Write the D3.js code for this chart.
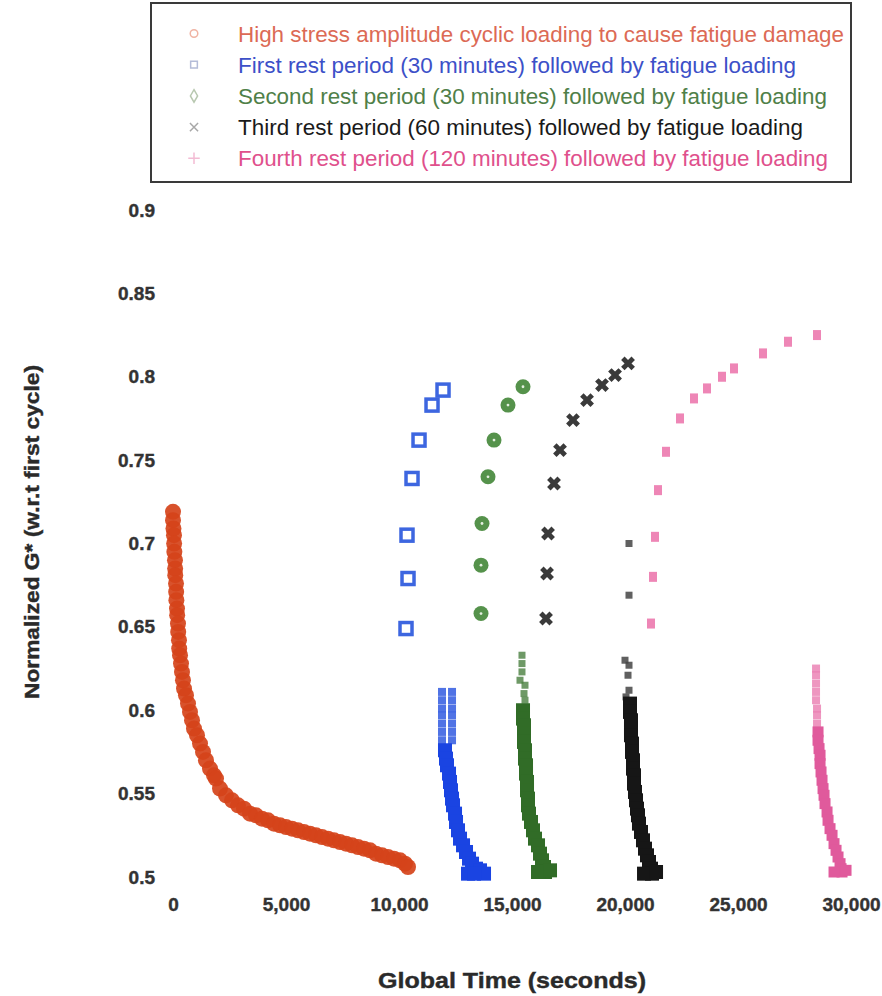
<!DOCTYPE html>
<html>
<head>
<meta charset="utf-8">
<script src="https://cdn.jsdelivr.net/npm/d3@7"></script>
<style>
  body { margin: 0; background: #fff; }
  svg { display: block; }
  text { font-family: "Liberation Sans", Arial, Helvetica, sans-serif; }
</style>
</head>
<body>
<svg id="chart" width="882" height="996"></svg>
<script>
// ---- axis ticks ----
const xTicks = [0, 5000, 10000, 15000, 20000, 25000, 30000];
const yTicks = [0.5, 0.55, 0.6, 0.65, 0.7, 0.75, 0.8, 0.85, 0.9];

// ---- legend ----
const legendLabels = [
  "High stress amplitude cyclic loading to cause fatigue damage",
  "First rest period (30 minutes) followed by fatigue loading",
  "Second rest period (30 minutes) followed by fatigue loading",
  "Third rest period (60 minutes) followed by fatigue loading",
  "Fourth rest period (120 minutes) followed by fatigue loading"
];

// ---- fatigue loading (global time in s, normalized G*) ----
const fatigueTime = [0, 0, 20, 44, 50, 60, 88, 95, 100, 133, 140, 150, 177, 185, 221, 230, 265, 275, 310, 354,
  398, 442, 487, 575, 664, 752, 841, 929, 1062, 1195, 1328, 1460, 1637, 1814, 1903, 2080, 2345, 2611, 2876, 3142,
  3407, 3673, 3938, 4204, 4469, 4735, 5000, 5266, 5531, 5797, 6062, 6328, 6593, 6859, 7124, 7390, 7655, 7921, 8186, 8452,
  8717, 8983, 9248, 9514, 9779, 10045, 10266, 10399];
const fatigueG = [0.719, 0.714, 0.709, 0.705, 0.700, 0.695, 0.690, 0.685, 0.681, 0.676, 0.671, 0.666, 0.661, 0.657, 0.652, 0.647, 0.642, 0.637, 0.633, 0.628,
  0.623, 0.618, 0.613, 0.609, 0.604, 0.599, 0.594, 0.589, 0.585, 0.580, 0.575, 0.570, 0.565, 0.561, 0.559, 0.553, 0.549, 0.546, 0.543, 0.541,
  0.538, 0.537, 0.535, 0.534, 0.532, 0.531, 0.530, 0.529, 0.528, 0.527, 0.526, 0.525, 0.524, 0.523, 0.522, 0.521, 0.520, 0.519, 0.518, 0.517,
  0.516, 0.514, 0.513, 0.512, 0.511, 0.510, 0.508, 0.506];

// ---- first rest period: recovery points, then reloading ----
const rest1RecoveryTime = [10310, 10399, 10354, 10576, 10886, 11461, 11948];
const rest1RecoveryG = [0.649, 0.679, 0.705, 0.739, 0.762, 0.783, 0.792];
const rest1EarlyTime = [11903, 11903, 11903, 11903, 11903, 11903, 11903, 12346, 12346, 12346, 12346, 12346, 12346, 12346];
const rest1EarlyG = [0.611, 0.606, 0.601, 0.597, 0.592, 0.587, 0.582, 0.611, 0.606, 0.601, 0.597, 0.592, 0.587, 0.582];
const rest1LoadTime = [12035, 12080, 12124, 12213, 12257, 12301, 12346, 12390, 12479, 12523, 12611, 12700, 12833,
  12965, 13098, 13231, 13408, 13585, 13762, 13054, 13319];
const rest1LoadG = [0.576, 0.571, 0.567, 0.562, 0.557, 0.552, 0.547, 0.543, 0.538, 0.533, 0.528, 0.523, 0.519,
  0.515, 0.511, 0.508, 0.505, 0.504, 0.502, 0.502, 0.502];

// ---- second rest period ----
const rest2RecoveryTime = [15487, 14823, 14204, 13938, 13673, 13629, 13629];
const rest2RecoveryG = [0.794, 0.783, 0.762, 0.740, 0.712, 0.687, 0.658];
const rest2EarlyTime = [15442, 15442, 15442, 15354, 15575, 15531, 15575];
const rest2EarlyG = [0.633, 0.628, 0.623, 0.618, 0.615, 0.610, 0.606];
const rest2LoadTime = [15487, 15487, 15531, 15531, 15531, 15575, 15575, 15620, 15620, 15664, 15664, 15708, 15708,
  15752, 15841, 15929, 16018, 16151, 16239, 16328, 16416, 16461, 16151, 16682];
const rest2LoadG = [0.600, 0.595, 0.591, 0.586, 0.581, 0.576, 0.571, 0.567, 0.562, 0.557, 0.552, 0.547, 0.543,
  0.538, 0.533, 0.528, 0.523, 0.519, 0.514, 0.510, 0.506, 0.503, 0.503, 0.504];

// ---- third rest period ----
const rest3RecoveryTime = [20134, 19559, 18983, 18320, 17700, 17125, 16859, 16594, 16550, 16505];
const rest3RecoveryG = [0.808, 0.801, 0.795, 0.786, 0.774, 0.756, 0.736, 0.706, 0.682, 0.655];
const rest3EarlyTime = [20177, 20177, 20000, 20177, 20133, 20177, 20044];
const rest3EarlyG = [0.700, 0.669, 0.630, 0.627, 0.621, 0.612, 0.608];
const rest3LoadTime = [20221, 20221, 20265, 20265, 20265, 20310, 20310, 20354, 20354, 20398, 20398, 20442, 20487,
  20531, 20575, 20619, 20708, 20796, 20885, 20973, 21062, 21150, 21195, 20842, 21373];
const rest3LoadG = [0.604, 0.599, 0.594, 0.589, 0.585, 0.580, 0.575, 0.570, 0.565, 0.561, 0.556, 0.551, 0.546,
  0.541, 0.537, 0.532, 0.527, 0.522, 0.517, 0.513, 0.509, 0.505, 0.502, 0.502, 0.503];

// ---- fourth rest period ----
const rest4RecoveryTime = [28496, 27212, 26106, 24823, 24292, 23628, 23053, 22434, 21814, 21460, 21327, 21239, 21150];
const rest4RecoveryG = [0.825, 0.821, 0.814, 0.805, 0.800, 0.793, 0.787, 0.775, 0.755, 0.732, 0.704, 0.680, 0.652];
const rest4EarlyTime = [28453, 28453, 28453, 28453, 28453, 28497, 28497, 28497];
const rest4EarlyG = [0.625, 0.621, 0.616, 0.611, 0.606, 0.601, 0.597, 0.592];
const rest4LoadTime = [28541, 28541, 28586, 28630, 28630, 28674, 28718, 28763, 28807, 28851, 28940, 28984, 29072,
  29161, 29249, 29338, 29426, 29515, 29559, 29603, 29249, 29780];
const rest4LoadG = [0.587, 0.582, 0.577, 0.573, 0.568, 0.563, 0.558, 0.553, 0.549, 0.544, 0.539, 0.534, 0.529,
  0.525, 0.520, 0.516, 0.512, 0.508, 0.505, 0.503, 0.503, 0.504];

const zip = (ts, gs) => ts.map((t, i) => ({ t, g: gs[i] }));

const svg = d3.select("#chart");
const x = d3.scaleLinear().domain([0, 30000]).range([173, 851]);
const y = d3.scaleLinear().domain([0.5, 0.9]).range([877, 210]);

// ---- axes (labels only, no lines) ----
const xAxis = svg.append("g")
  .attr("transform", "translate(0,877)")
  .call(d3.axisBottom(x).tickValues(xTicks).tickFormat(d3.format(",")).tickSize(0).tickPadding(21));
const yAxis = svg.append("g")
  .attr("transform", "translate(173,0)")
  .call(d3.axisLeft(y).tickValues(yTicks).tickFormat(d3.format("~g")).tickSize(0).tickPadding(18));
[xAxis, yAxis].forEach(g => {
  g.select(".domain").remove();
  g.selectAll("text")
    .attr("fill", "#333")
    .attr("stroke", "#333").attr("stroke-width", 0.4)
    .style("font-size", "19px")
    .style("font-weight", "bold")
    .style("font-family", "\"Liberation Sans\", Arial, sans-serif");
});

svg.append("text")
  .attr("x", 512).attr("y", 988)
  .attr("text-anchor", "middle")
  .attr("fill", "#2a2a2a").attr("stroke", "#2a2a2a").attr("stroke-width", 0.4)
  .attr("textLength", 268).attr("lengthAdjust", "spacingAndGlyphs")
  .style("font-size", "22px").style("font-weight", "bold")
  .text("Global Time (seconds)");

svg.append("text")
  .attr("transform", "translate(39,532) rotate(-90)")
  .attr("text-anchor", "middle")
  .attr("fill", "#2a2a2a").attr("stroke", "#2a2a2a").attr("stroke-width", 0.4)
  .attr("textLength", 334).attr("lengthAdjust", "spacingAndGlyphs")
  .style("font-size", "20px").style("font-weight", "bold")
  .text("Normalized G* (w.r.t first cycle)");

// ---- marks ----
const plot = svg.append("g");

// loading cycles drawn as overlapping squares
function squares(data, size, color, opacity) {
  plot.append("g").selectAll("rect").data(data).join("rect")
    .attr("x", d => x(d.t) - size / 2)
    .attr("y", d => y(d.g) - size / 2)
    .attr("width", size).attr("height", size)
    .attr("fill", color).attr("fill-opacity", opacity);
}

// fatigue loading: circles packed into a solid band
plot.append("g").selectAll("circle").data(zip(fatigueTime, fatigueG)).join("circle")
  .attr("cx", d => x(d.t)).attr("cy", d => y(d.g)).attr("r", 8)
  .attr("fill", "#d5431a").attr("fill-opacity", 0.92);

squares(zip(rest1EarlyTime, rest1EarlyG), 8, "#3d64e2", 0.9);
squares(zip(rest1LoadTime, rest1LoadG), 14, "#1a44e2", 1);
squares(zip(rest2EarlyTime, rest2EarlyG), 7, "#4a8040", 0.8);
squares(zip(rest2LoadTime, rest2LoadG), 14, "#316c27", 1);
squares(zip(rest3EarlyTime, rest3EarlyG), 7, "#444444", 0.85);
squares(zip(rest3LoadTime, rest3LoadG), 14, "#161616", 1);
squares(zip(rest4EarlyTime, rest4EarlyG), 8, "#ea7cb0", 0.8);
squares(zip(rest4LoadTime, rest4LoadG), 11, "#e05a9c", 1);

// recovery points after each rest
plot.append("g").selectAll("rect").data(zip(rest1RecoveryTime, rest1RecoveryG)).join("rect")
  .attr("x", d => x(d.t) - 6).attr("y", d => y(d.g) - 6)
  .attr("width", 12).attr("height", 12)
  .attr("fill", "none").attr("stroke", "#3d66e0").attr("stroke-width", 3.5);

const g2 = plot.append("g").selectAll("g").data(zip(rest2RecoveryTime, rest2RecoveryG)).join("g")
  .attr("transform", d => `translate(${x(d.t)},${y(d.g)})`);
g2.append("circle").attr("r", 7.5).attr("fill", "#55924b");
g2.append("circle").attr("r", 1.4).attr("fill", "#e4efe0");

plot.append("g").selectAll("path").data(zip(rest3RecoveryTime, rest3RecoveryG)).join("path")
  .attr("transform", d => `translate(${x(d.t)},${y(d.g)}) rotate(45)`)
  .attr("d", d3.symbol(d3.symbolCross, 120)())
  .attr("fill", "#3a3a3a");

plot.append("g").selectAll("rect").data(zip(rest4RecoveryTime, rest4RecoveryG)).join("rect")
  .attr("x", d => x(d.t) - 4).attr("y", d => y(d.g) - 5)
  .attr("width", 8).attr("height", 10)
  .attr("fill", "#ee86b6");

// ---- legend ----
const legend = svg.append("g");
legend.append("rect")
  .attr("x", 151).attr("y", 3).attr("width", 700).attr("height", 179)
  .attr("fill", "#fff").attr("stroke", "#3a3a3a").attr("stroke-width", 2);

const legendText = ["#dc6a55", "#3c50c8", "#4f8048", "#1a1a1a", "#e0508c"];
const legendMark = ["#f0b4a4", "#b4bcd8", "#b8c8b0", "#a8a8a8", "#f3bcd4"];
const legendWidth = [606, 558, 589, 565, 590];
const legendSymbols = [d3.symbolCircle, d3.symbolSquare, d3.symbolDiamond, d3.symbolX, d3.symbolPlus];

const rows = legend.selectAll("g.row").data(legendLabels).join("g")
  .attr("class", "row")
  .attr("transform", (d, i) => `translate(0,${33.5 + i * 31.2})`);
rows.append("path")
  .attr("transform", "translate(194,0)")
  .attr("d", (d, i) => d3.symbol(legendSymbols[i], 45)())
  .attr("fill", "none")
  .attr("stroke", (d, i) => legendMark[i]).attr("stroke-width", 1.5);
rows.append("text")
  .attr("x", 238).attr("y", 8)
  .attr("fill", (d, i) => legendText[i])
  .attr("textLength", (d, i) => legendWidth[i]).attr("lengthAdjust", "spacingAndGlyphs")
  .style("font-size", "22.5px")
  .text(d => d);
</script>
</body>
</html>
